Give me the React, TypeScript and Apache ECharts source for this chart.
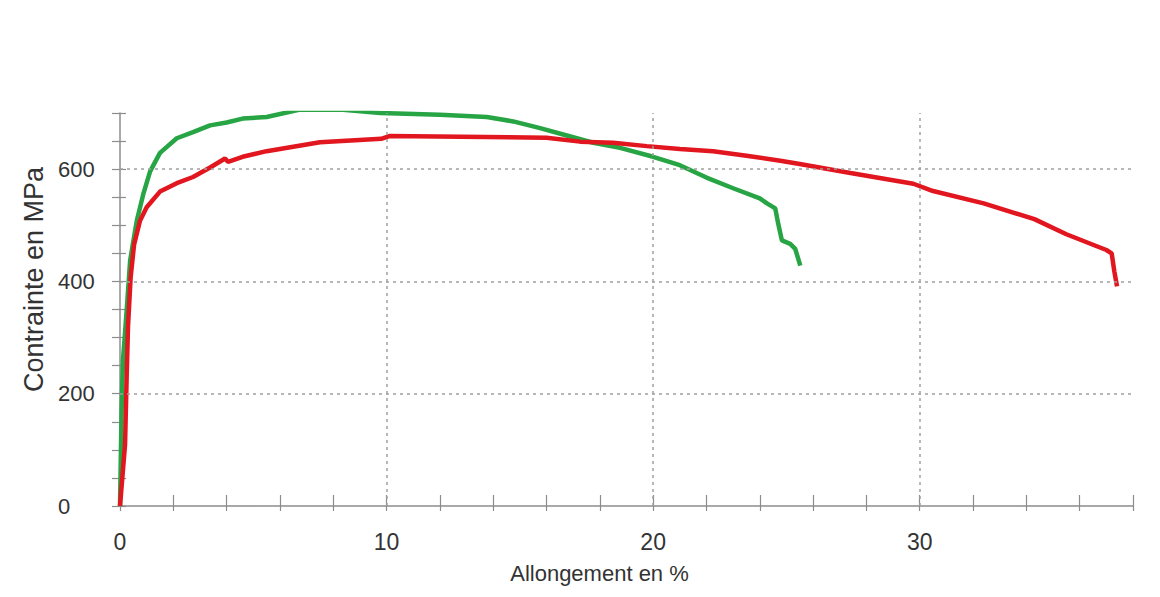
import React, { useEffect, useRef } from "react";
import * as echarts from "echarts";

const greenStrain = [0, 0.06, 0.11, 0.25, 0.38, 0.48, 0.63, 0.87, 1.13, 1.5, 2.13, 2.74, 3.38, 4.0, 4.6, 5.5, 6.75, 8.26, 9.76, 12.0, 13.76, 14.75, 15.76, 16.76, 17.75, 18.76, 20.0, 21.0, 22.0, 23.0, 24.0, 24.27, 24.58, 24.69, 24.83, 25.14, 25.33, 25.52];
const greenStress = [0, 170, 259, 348, 437, 466, 508, 555, 596, 629, 655, 666, 678, 683, 690, 693, 706, 706, 700, 697, 693, 685, 673, 660, 647, 638, 622, 607, 585, 566, 548, 539, 530, 503, 473, 467, 458, 428];

const redStrain = [0, 0.19, 0.25, 0.3, 0.4, 0.53, 0.75, 1.0, 1.5, 2.13, 2.74, 3.38, 3.94, 4.05, 4.6, 5.5, 7.5, 9.8, 10.1, 16.0, 17.26, 18.5, 19.76, 21.0, 22.25, 23.5, 24.77, 25.5, 27.4, 29.76, 30.5, 32.4, 34.3, 35.5, 37.0, 37.2, 37.3, 37.4];
const redStress = [0, 110, 230, 319, 408, 466, 508, 532, 560, 575, 586, 603, 619, 613, 622, 632, 648, 654, 659, 656, 649, 647, 641, 636, 632, 624, 615, 609, 593, 574, 561, 539, 511, 484, 456, 450, 418, 391];

const xGridValues = [10, 20, 30];
const yGridValues = [200, 400, 600];

const xName = "Allongement en %";
const yName = "Contrainte en MPa";

const font = "'Liberation Sans', Arial, sans-serif";
const axisGray = "#8c8c8c";
const textColor = "#333";

export default function App() {
  const ref = useRef<HTMLDivElement>(null);
  useEffect(() => {
    const chart = echarts.init(ref.current!, undefined, { renderer: "svg" });
    const pairs = (xs: number[], ys: number[]) => xs.map((x, i) => [x, ys[i]]);
    const grid = { left: 120, right: 27, top: 113, bottom: 91 };
    chart.setOption({
      animation: false,
      backgroundColor: "#ffffff",
      grid,
      xAxis: [
        {
          type: "value", min: 0, max: 38, interval: 2, position: "bottom",
          axisLine: { show: true, lineStyle: { color: axisGray, width: 1.5 } },
          axisTick: { show: true, inside: true, length: 11, lineStyle: { color: axisGray, width: 1.2 } },
          axisLabel: {
            show: true, margin: 24, fontSize: 23, color: textColor, fontFamily: font,
            formatter: (v: number) => (v % 10 === 0 ? String(v) : ""),
          },
          splitLine: { show: false },
          name: xName, nameLocation: "middle", nameGap: 56,
          nameTextStyle: { fontSize: 22, color: textColor, fontFamily: font, padding: [0, 54, 0, 0] },
        },
        {
          type: "value", min: 0, max: 38, interval: 2, position: "bottom",
          axisLine: { show: false },
          axisTick: { show: true, inside: false, length: 5, lineStyle: { color: axisGray, width: 1.2 } },
          axisLabel: { show: false },
          splitLine: { show: false },
        },
      ],
      yAxis: [
        {
          type: "value", min: 0, max: 700, interval: 50, position: "left",
          axisLine: { show: true, lineStyle: { color: axisGray, width: 1.5 } },
          axisTick: { show: true, inside: false, length: 8, lineStyle: { color: axisGray, width: 1.2 } },
          axisLabel: {
            show: true, margin: 62, align: "left", fontSize: 22, color: textColor, fontFamily: font,
            padding: [14, 0, 0, 0],
            formatter: (v: number) => (v % 200 === 0 ? String(v) : ""),
          },
          splitLine: { show: false },
          name: yName, nameLocation: "middle", nameGap: 70, nameRotate: 90,
          nameTextStyle: { fontSize: 27, color: textColor, fontFamily: font, padding: [0, 0, 0, 60] },
        },
        {
          type: "value", min: 0, max: 700, interval: 50, position: "left",
          axisLine: { show: false },
          axisTick: { show: true, inside: true, length: 6, lineStyle: { color: axisGray, width: 1.2 } },
          axisLabel: { show: false },
          splitLine: { show: false },
        },
      ],
      series: [
        {
          type: "line", data: [], silent: true, z: 1,
          markLine: {
            silent: true, symbol: "none", label: { show: false },
            lineStyle: { color: "#a0a0a0", type: [3, 4], width: 1.5 },
            data: [
              ...yGridValues.map((v) => ({ yAxis: v })),
              ...xGridValues.map((v) => ({ xAxis: v })),
            ],
          },
        },
        {
          name: "green", type: "line", z: 3, showSymbol: false, symbol: "none",
          data: pairs(greenStrain, greenStress),
          lineStyle: { color: "#27a544", width: 4.5 },
        },
        {
          name: "red", type: "line", z: 4, showSymbol: false, symbol: "none",
          data: pairs(redStrain, redStress),
          lineStyle: { color: "#e1161f", width: 4.5 },
        },
      ],
    });
    return () => chart.dispose();
  }, []);
  return (
    <div
      ref={ref}
      style={{ position: "fixed", left: 0, top: 0, width: 1160, height: 597, background: "#fff" }}
    />
  );
}
